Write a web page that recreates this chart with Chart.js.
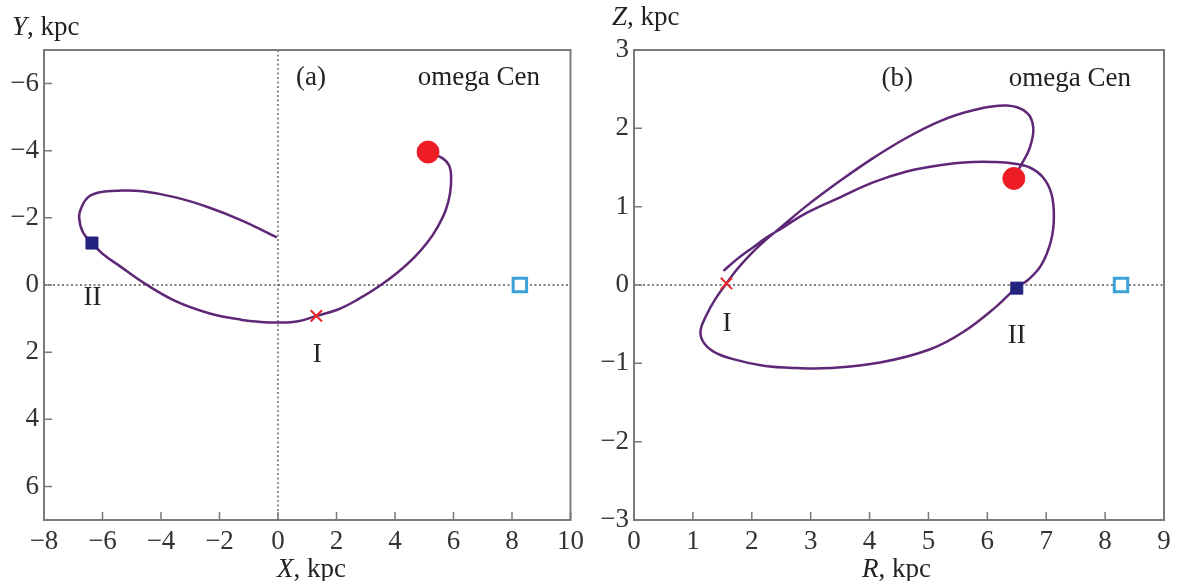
<!DOCTYPE html>
<html>
<head>
<meta charset="utf-8">
<script src="https://cdn.jsdelivr.net/npm/chart.js@4.4.1/dist/chart.umd.min.js"></script>
<style>
  html, body { margin: 0; padding: 0; background: #fff; }
  #wrap { position: relative; width: 1179px; height: 581px; }
  canvas { position: absolute; top: 0; }
</style>
</head>
<body>
<div id="wrap">
  <canvas id="chartA" width="590" height="581" style="left:0"></canvas>
  <canvas id="chartB" width="589" height="581" style="left:590px"></canvas>
</div>
<script>
// panel (a): orbit projected on the galactic plane, from present position onwards
var orbitX = [5.13, 5.62, 5.85, 5.92, 5.88, 5.73, 5.45, 5.11, 4.66, 4.09, 3.47, 2.73, 2.05, 1.31, 0.69, 0.0,
  -0.6, -1.23, -2.36, -3.50, -4.51, -5.42, -6.0, -6.36, -6.67, -6.80, -6.72, -6.50, -6.10, -5.42, -4.63,
  -3.50, -2.36, -1.23, -0.04];
var orbitY = [-3.96, -3.78, -3.56, -3.21, -2.72, -2.22, -1.72, -1.27, -0.82, -0.37, 0.03, 0.43, 0.73, 0.92, 1.08, 1.12,
  1.10, 1.04, 0.84, 0.48, -0.02, -0.57, -0.93, -1.25, -1.57, -2.02, -2.31, -2.61, -2.76, -2.81, -2.79,
  -2.61, -2.31, -1.92, -1.42];

// panel (b): the same orbit in the meridional plane
var orbitR = [6.44, 6.58, 6.72, 6.78, 6.67, 6.33, 5.76, 5.19, 4.63, 4.06, 3.50, 2.93, 2.50, 2.20, 1.95, 1.75,
  1.57, 1.38, 1.22, 1.13, 1.17, 1.35, 1.70, 2.20, 2.76, 3.33, 4.18, 5.03, 5.59, 6.16, 6.50, 6.70, 6.92, 7.08,
  7.13, 7.09, 6.95, 6.72, 6.44, 6.10, 5.76, 5.19, 4.63, 4.06, 3.50, 2.93, 2.50, 2.30, 2.00, 1.75, 1.52];
var orbitZ = [1.36, 1.54, 1.75, 2.01, 2.20, 2.29, 2.23, 2.09, 1.88, 1.62, 1.33, 1.01, 0.74, 0.55, 0.37, 0.20,
  0.02, -0.18, -0.40, -0.58, -0.72, -0.85, -0.95, -1.03, -1.06, -1.06, -0.99, -0.82, -0.60, -0.27, -0.03, 0.07,
  0.26, 0.56, 0.86, 1.16, 1.37, 1.50, 1.55, 1.57, 1.57, 1.53, 1.45, 1.31, 1.12, 0.92, 0.72, 0.63, 0.47, 0.33, 0.18];

// markers: [present position, point I, point II, Sun]
var markX = [5.13, 1.31, -6.36, 8.27];
var markY = [-3.96, 0.92, -1.25, 0];
var markR = [6.45, 1.57, 6.50, 8.27];
var markZ = [1.36, 0.02, -0.04, 0];

// ticks
var xTicksA = [-8, -6, -4, -2, 0, 2, 4, 6, 8, 10];
var yTicksA = [-6, -4, -2, 0, 2, 4, 6];
var xTicksB = [0, 1, 2, 3, 4, 5, 6, 7, 8, 9];
var yTicksB = [-3, -2, -1, 0, 1, 2, 3];

// text labels, in data units
var notesA = [
  { text: '(a)', x: 1.13, y: -6.17 },
  { text: 'omega Cen', x: 6.87, y: -6.17 },
  { text: 'II', x: -6.34, y: 0.39 },
  { text: 'I', x: 1.34, y: 2.07 }
];
var notesB = [
  { text: '(b)', x: 4.47, y: 2.63 },
  { text: 'omega Cen', x: 7.40, y: 2.63 },
  { text: 'I', x: 1.58, y: -0.50 },
  { text: 'II', x: 6.50, y: -0.65 }
];

var SERIF = "'Liberation Serif', 'DejaVu Serif', serif";
var FS = 27;
var orbitColor = '#5f2877';

function minus(v) {
  return String(v).replace('-', '\u2212');
}

function zip(xs, ys) {
  return xs.map(function (x, i) { return { x: x, y: ys[i] }; });
}

function markerSets(xs, ys) {
  return [
    { data: [{ x: xs[0], y: ys[0] }], pointStyle: 'circle', pointRadius: 11,
      pointBackgroundColor: '#ee1d25', pointBorderColor: '#ee1d25', pointBorderWidth: 1, order: 1 },
    { data: [{ x: xs[1], y: ys[1] }], pointStyle: 'crossRot', pointRadius: 8,
      pointBorderColor: '#e8262a', pointBorderWidth: 2, order: 1 },
    { data: [{ x: xs[2], y: ys[2] }], pointStyle: 'rect', pointRadius: 8.5,
      pointBackgroundColor: '#24237f', pointBorderColor: '#24237f', pointBorderWidth: 1, order: 1 },
    { data: [{ x: xs[3], y: ys[3] }], pointStyle: 'rect', pointRadius: 9.5,
      pointBackgroundColor: '#ffffff', pointBorderColor: '#3aa2d8', pointBorderWidth: 3, order: 1 }
  ];
}

// box, inward ticks, dotted zero lines and text
var framePlugin = {
  id: 'frame',
  beforeDatasetsDraw: function (chart, args, opts) {
    var ctx = chart.ctx, a = chart.chartArea;
    var sx = chart.scales.x, sy = chart.scales.y;
    ctx.save();
    ctx.strokeStyle = '#555';
    ctx.lineWidth = 1.3;
    ctx.setLineDash([2, 2.5]);
    var py = sy.getPixelForValue(0);
    ctx.beginPath();
    ctx.moveTo(a.left, py);
    ctx.lineTo(a.right, py);
    if (opts.vertical) {
      var px = sx.getPixelForValue(0);
      ctx.moveTo(px, a.top);
      ctx.lineTo(px, a.bottom);
    }
    ctx.stroke();
    ctx.restore();
  },
  afterDraw: function (chart, args, opts) {
    var ctx = chart.ctx, a = chart.chartArea;
    var sx = chart.scales.x, sy = chart.scales.y;
    ctx.save();
    ctx.strokeStyle = '#7a7a7a';
    ctx.lineWidth = 2;
    ctx.strokeRect(a.left, a.top, a.right - a.left, a.bottom - a.top);
    ctx.lineWidth = 1.5;
    ctx.beginPath();
    sx.ticks.forEach(function (t) {
      var p = sx.getPixelForValue(t.value);
      ctx.moveTo(p, a.bottom);
      ctx.lineTo(p, a.bottom - 8);
    });
    sy.ticks.forEach(function (t) {
      var p = sy.getPixelForValue(t.value);
      ctx.moveTo(a.left, p);
      ctx.lineTo(a.left + 8, p);
    });
    ctx.stroke();

    ctx.fillStyle = '#222';
    ctx.textAlign = 'center';
    ctx.textBaseline = 'middle';
    ctx.font = FS + 'px ' + SERIF;
    opts.notes.forEach(function (n) {
      ctx.fillText(n.text, sx.getPixelForValue(n.x), sy.getPixelForValue(n.y));
    });

    // axis titles: italic letter + ", kpc"
    function title(letter, x, y) {
      ctx.textAlign = 'left';
      ctx.font = 'italic ' + FS + 'px ' + SERIF;
      var w = ctx.measureText(letter).width;
      ctx.fillText(letter, x, y);
      ctx.font = FS + 'px ' + SERIF;
      ctx.fillText(', kpc', x + w, y);
    }
    title(opts.xTitle, opts.xTitlePos[0], opts.xTitlePos[1]);
    title(opts.yTitle, opts.yTitlePos[0], opts.yTitlePos[1]);
    ctx.restore();
  }
};

function makeChart(id, orbit, marks, xr, yr, xt, yt, reverseY, pluginOpts, padRight) {
  var tickFont = { family: SERIF, size: FS };
  return new Chart(document.getElementById(id), {
    type: 'scatter',
    data: {
      datasets: markerSets(marks[0], marks[1]).concat([{
        data: zip(orbit[0], orbit[1]),
        showLine: true,
        tension: 0.4,
        borderColor: orbitColor,
        borderWidth: 2.5,
        pointRadius: 0,
        order: 2
      }])
    },
    options: {
      responsive: false,
      animation: false,
      clip: false,
      layout: { padding: { top: 50, right: padRight, left: 0, bottom: 0 } },
      plugins: { legend: { display: false }, tooltip: { enabled: false }, frame: pluginOpts },
      scales: {
        x: {
          type: 'linear', min: xr[0], max: xr[1],
          grid: { display: false, drawTicks: false },
          border: { display: false },
          afterBuildTicks: function (s) { s.ticks = xt.map(function (v) { return { value: v }; }); },
          afterFit: function (s) { s.height = 61; },
          ticks: { font: tickFont, color: '#333', padding: 6, maxRotation: 0, autoSkip: false,
            callback: function (v) { return minus(v); } }
        },
        y: {
          type: 'linear', min: yr[0], max: yr[1], reverse: reverseY,
          grid: { display: false, drawTicks: false },
          border: { display: false },
          afterBuildTicks: function (s) { s.ticks = yt.map(function (v) { return { value: v }; }); },
          afterFit: function (s) { s.width = 44; },
          ticks: { font: tickFont, color: '#333', padding: 5, autoSkip: false,
            callback: function (v) { return minus(v); } }
        }
      }
    },
    plugins: [framePlugin]
  });
}

makeChart('chartA', [orbitX, orbitY], [markX, markY], [-8, 10], [-7, 7], xTicksA, yTicksA, true,
  { vertical: true, notes: notesA, xTitle: 'X', xTitlePos: [277, 570], yTitle: 'Y', yTitlePos: [12, 28] }, 16);
makeChart('chartB', [orbitR, orbitZ], [markR, markZ], [0, 9], [-3, 3], xTicksB, yTicksB, false,
  { vertical: false, notes: notesB, xTitle: 'R', xTitlePos: [272, 570], yTitle: 'Z', yTitlePos: [22, 18] }, 15);
</script>
</body>
</html>
